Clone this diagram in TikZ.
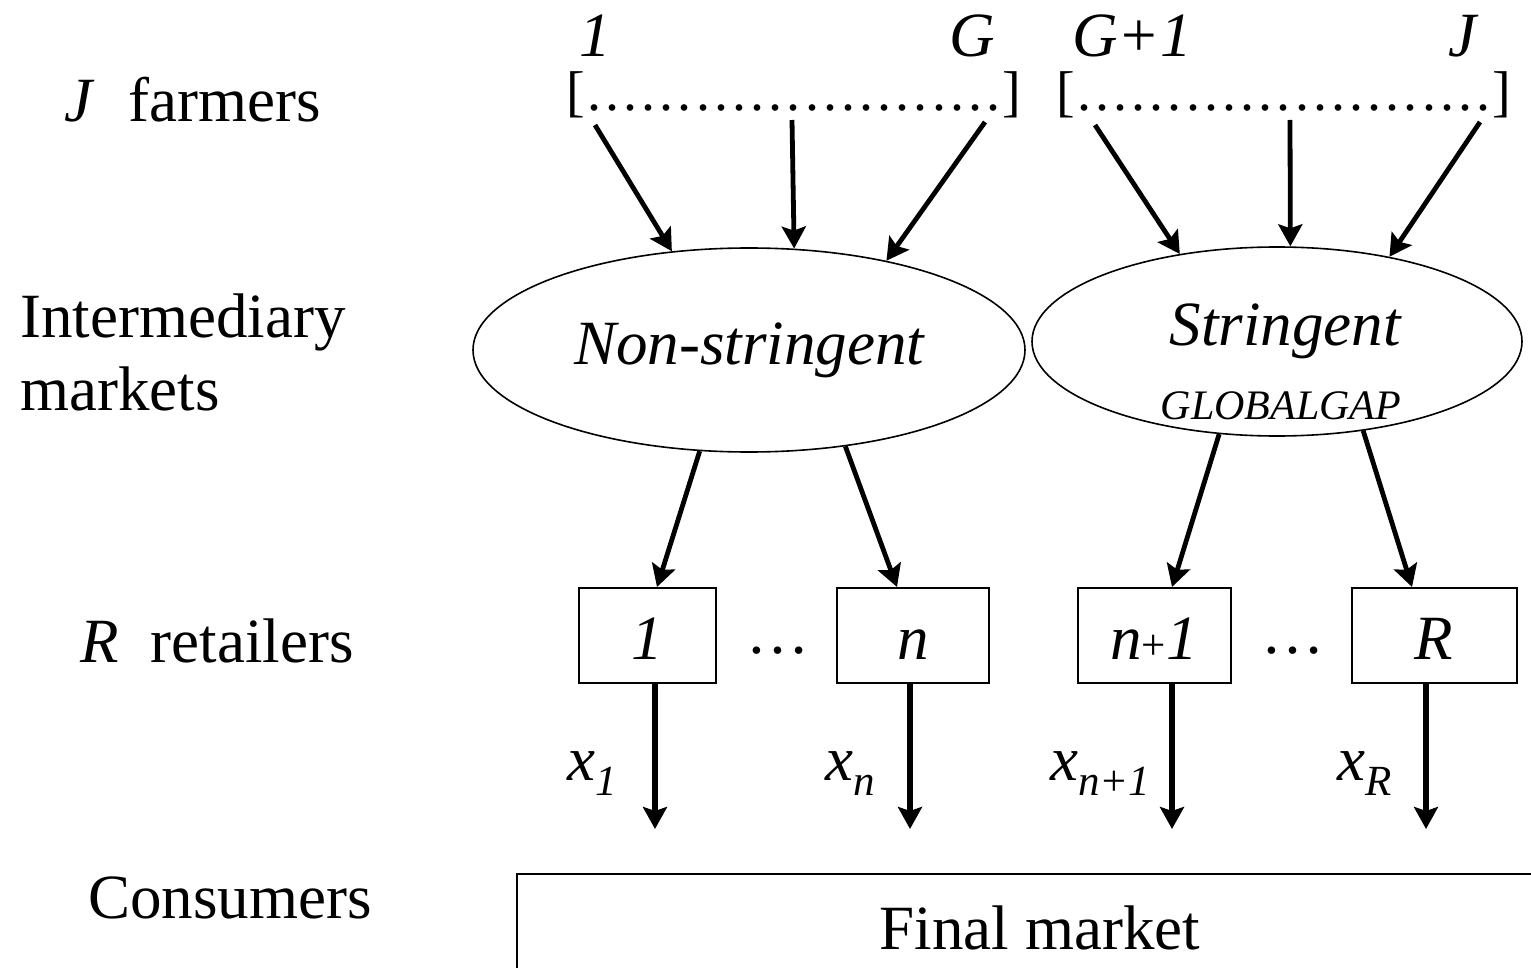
\documentclass[tikz,border=0pt]{standalone}
\usepackage{fontspec}
\setmainfont{Liberation Serif}
\usetikzlibrary{shapes.geometric, arrows.meta, positioning, calc}

\newcommand{\bigfont}{\fontsize{31.5}{36.5}\selectfont}
\newcommand{\smallfont}{\fontsize{21.5}{21.5}\selectfont}
% bracket with a row of dots for a group of farmers
\newcommand{\dotrow}{\fontsize{28}{28}\selectfont\hbox to 227.5pt{[\xleaders\hbox to 9pt{\hss.\hss}\hfill]}}
% quantity sold by a retailer
\newcommand{\xsub}[1]{\textit{x}\raisebox{-7.5pt}{\smallfont\textit{#1}}}

\tikzset{
  lbl/.style={font=\bigfont, inner sep=0pt},
  market/.style={ellipse, draw, line width=0.8pt, inner sep=0pt},
  retailer/.style={rectangle, draw, line width=1pt, minimum height=47.5pt,
    text height=24pt, text depth=0pt, font=\bigfont\itshape, inner sep=0pt},
  supply/.style={-{Stealth[length=11pt,width=12pt,inset=2pt]}, line width=2.4pt},
  sale/.style={-{Stealth[length=11pt,width=12pt,inset=2pt]}, line width=3.2pt}
}

\begin{document}
\begin{tikzpicture}[x=0.5pt, y=-0.5pt]
  \useasboundingbox (0,0) rectangle (1531,968);
  \clip (0,0) rectangle (1531,968);

  % row names on the left
  \node[lbl, anchor=base west] (farmers) at (64,122) {\textit{J}\hspace{17pt}farmers};
  \node[lbl, anchor=west, align=left] (inter) at (20,352) {Intermediary\\markets};
  \node[lbl, anchor=base west] (retail) at (80,662) {\textit{R}\hspace{16pt}retailers};
  \node[lbl, anchor=base west] (cons) at (88,918) {Consumers};

  % farmer groups
  \node[lbl, font=\bigfont\itshape, anchor=base] (f1) at (595,57) {1};
  \node[lbl, font=\bigfont\itshape, anchor=base] (fG) at (972,57) {G};
  \node[lbl, font=\bigfont\itshape, anchor=base] (fG1) at (1132,57) {G+1};
  \node[lbl, font=\bigfont\itshape, anchor=base] (fJ) at (1462,57) {J};
  \node[anchor=base west, inner sep=0pt] (grpA) at (566,111) {\dotrow};
  \node[anchor=base west, inner sep=0pt] (grpB) at (1056,111) {\dotrow};

  \coordinate (a1) at (595,125);
  \coordinate (a2) at (792,120);
  \coordinate (a3) at (985,122);
  \coordinate (b1) at (1095,125);
  \coordinate (b2) at (1290,120);
  \coordinate (b3) at (1480,122);

  % intermediary markets
  \node[market, minimum width=276pt, minimum height=102pt, font=\bigfont\itshape] (ns) at (749,350) {Non-stringent};
  \node[market, minimum width=245pt, minimum height=94.5pt] (st) at (1277,341.5) {};
  \node[lbl, font=\bigfont\itshape, anchor=base] (stname) at (1285,345) {Stringent};
  \node[lbl, font=\fontsize{21}{21}\selectfont\itshape, anchor=base] (gap) at (1281,419) {GLOBALGAP};

  \draw[supply] (a1) -- (ns.128);
  \draw[supply] (a2) -- (ns.66);
  \draw[supply] (a3) -- (ns.33);
  \draw[supply] (b1) -- (st.138);
  \draw[supply] (b2) -- (st.82);
  \draw[supply] (b3) -- (st.37);

  % retailers
  \node[retailer, minimum width=68.5pt] (r1) at (647,635.5) {1};
  \node[retailer, minimum width=76pt] (rn) at (913,635.5) {n};
  \node[retailer, minimum width=76.5pt] (rn1) at (1154,635.5) {n{\upshape\smallfont+}1};
  \node[retailer, minimum width=82.5pt] (rR) at (1434,635.5) {R};
  \node[lbl, anchor=base] (dotsA) at (778,653) {…};
  \node[lbl, anchor=base] (dotsB) at (1293,653) {…};

  \draw[supply] (ns.244) -- ([xshift=5pt]r1.north);
  \draw[supply] (ns.315) -- ([xshift=-8pt]rn.north);
  \draw[supply] (st.238) -- ([xshift=9pt]rn1.north);
  \draw[supply] (st.314) -- ([xshift=-11pt]rR.north);

  % sales to the final market
  \draw[sale] ([xshift=4pt]r1.south) -- ([xshift=4pt, yshift=-72.5pt]r1.south);
  \draw[sale] ([xshift=-1.5pt]rn.south) -- ([xshift=-1.5pt, yshift=-72.5pt]rn.south);
  \draw[sale] ([xshift=9pt]rn1.south) -- ([xshift=9pt, yshift=-72.5pt]rn1.south);
  \draw[sale] ([xshift=-4pt]rR.south) -- ([xshift=-4pt, yshift=-72.5pt]rR.south);

  \node[lbl, anchor=base west] (x1) at (567,780) {\xsub{1}};
  \node[lbl, anchor=base west] (xn) at (825,780) {\xsub{n}};
  \node[lbl, anchor=base west] (xn1) at (1050,780) {\xsub{n+1}};
  \node[lbl, anchor=base west] (xR) at (1337,780) {\xsub{R}};

  \node[draw, line width=1.1pt, minimum width=523pt, minimum height=54pt, font=\bigfont] (fm) at (1040,928) {Final market};
\end{tikzpicture}
\end{document}
